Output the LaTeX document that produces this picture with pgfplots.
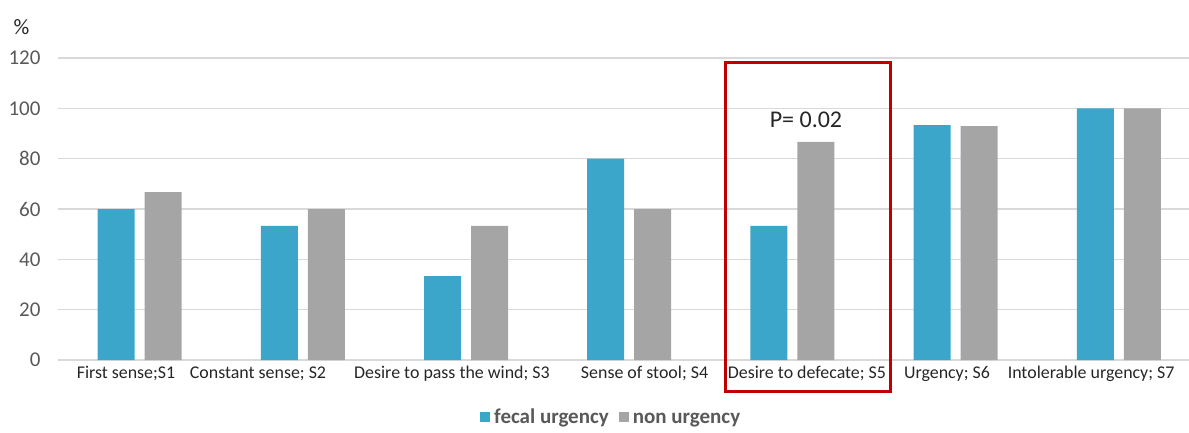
\documentclass[border=0pt]{standalone}
\usepackage{pgfplots}
\pgfplotsset{compat=1.18}
\usepackage{fontspec}
\setmainfont{Carlito}
\definecolor{cblue}{HTML}{3BA6C9}
\definecolor{cgray}{HTML}{A5A5A5}
\definecolor{cgrid}{HTML}{D9D9D9}
\definecolor{ctick}{HTML}{595959}
\definecolor{cred}{HTML}{C00000}
\begin{document}
\begin{tikzpicture}
\useasboundingbox (0,0) rectangle (1189pt,-432pt);
\begin{axis}[
  at={(58pt,-360pt)}, anchor=south west,
  scale only axis, width=1131pt, height=302pt,
  xmin=-0.5, xmax=6.43, ymin=0, ymax=120,
  ytick={0,20,...,120},
  xtick={-0.083,0.7255,1.914,3.094,4.089,4.947,5.830},
  xticklabels={First sense;S1, Constant sense; S2, Desire to pass the wind; S3, Sense of stool; S4, Desire to defecate; S5, Urgency; S6, Intolerable urgency; S7},
  axis line style={draw=none},
  major tick length=0pt,
  ymajorgrids, grid style={cgrid, line width=1.2pt},
  yticklabel style={font=\fontsize{21}{23}\selectfont, text=ctick, xshift=-14pt},
  xticklabel style={font=\fontsize{17.9}{20}\selectfont, text=black!85, yshift=-3pt},
  /pgf/number format/assume math mode=true,
  ybar=10pt, bar width=37pt,
  clip=false,
  legend style={at={(0.49,-0.2)}, anchor=center, draw=none, legend columns=2,
    font=\bfseries\fontsize{21}{23}\selectfont, text=ctick,
    nodes={text height=11pt, text depth=4pt, inner ysep=2pt, inner xsep=4pt},
    /tikz/every even column/.append style={column sep=6pt}},
  legend image code/.code={\fill[#1] (0pt,-2pt) rectangle (10pt,8pt);},
]
\addplot[fill=cblue, draw=none] coordinates {(0,60) (1,53.3) (2,33.3) (3,80) (4,53.3) (5,93.3) (6,100)};
\addplot[fill=cgray, draw=none] coordinates {(0,66.7) (1,60) (2,53.3) (3,60) (4,86.7) (5,92.9) (6,100)};
\legend{fecal urgency, non urgency}
\draw[cred, line width=3pt] (axis cs:3.59,118.4) rectangle (axis cs:4.60,-12.7);
\node[font=\fontsize{24}{26}\selectfont, text=black!85] at (axis cs:4.083,95.5) {P= 0.02};
\end{axis}
\node[font=\fontsize{22}{24}\selectfont, text=black!85] at (21.5pt,-27pt) {\%};
\end{tikzpicture}
\end{document}
